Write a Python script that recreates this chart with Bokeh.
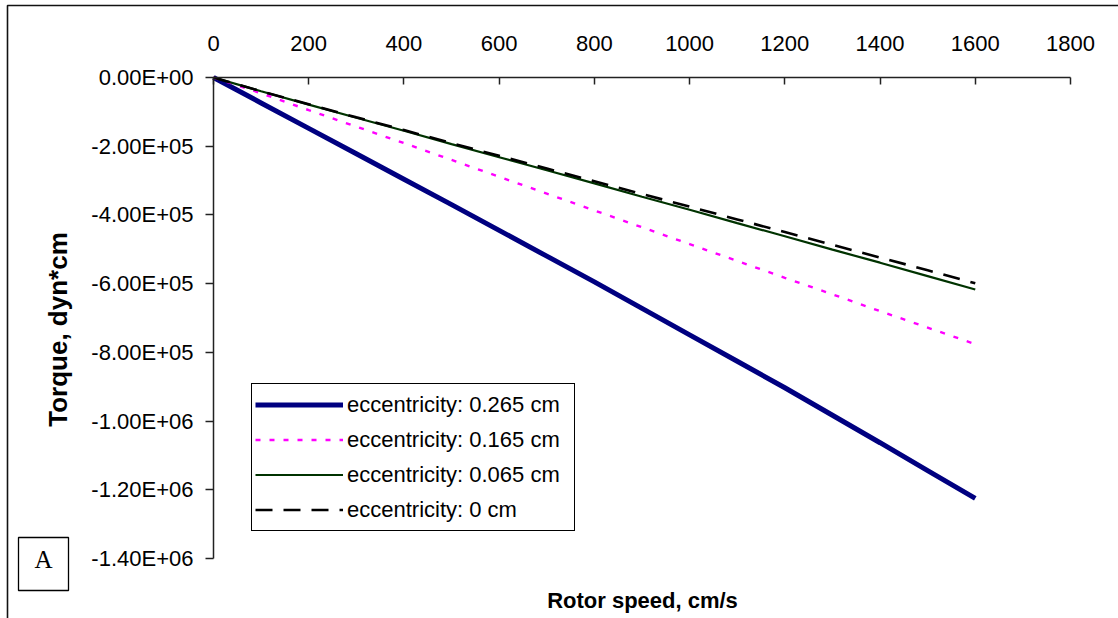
from math import pi

from bokeh.embed import file_html
from bokeh.models import (BoxAnnotation, FixedTicker, Label, Legend, LegendItem,
                          LinearAxis, Range1d)
from bokeh.plotting import figure
from bokeh.resources import INLINE

# Rotor speed (cm/s) and computed torque (dyn*cm) for each eccentricity
speed = [0, 100, 200, 300, 400, 500, 600, 700, 800, 900, 1000, 1100, 1200, 1300, 1400, 1500, 1600]
torque_e0265 = [0, -7.4e4, -1.48e5, -2.22e5, -2.96e5, -3.70e5, -4.45e5, -5.20e5, -5.95e5,
                -6.72e5, -7.49e5, -8.26e5, -9.03e5, -9.83e5, -1.063e6, -1.144e6, -1.225e6]
torque_e0165 = [0, -4.6e4, -9.5e4, -1.43e5, -1.91e5, -2.40e5, -2.89e5, -3.38e5, -3.87e5,
                -4.36e5, -4.85e5, -5.34e5, -5.83e5, -6.31e5, -6.80e5, -7.28e5, -7.76e5]
torque_e0065 = [0, -4.0e4, -7.9e4, -1.17e5, -1.55e5, -1.94e5, -2.32e5, -2.70e5, -3.08e5,
                -3.47e5, -3.85e5, -4.24e5, -4.62e5, -5.01e5, -5.39e5, -5.78e5, -6.17e5]
torque_e0 = [0, -4.0e4, -7.8e4, -1.16e5, -1.53e5, -1.91e5, -2.28e5, -2.65e5, -3.02e5,
             -3.39e5, -3.76e5, -4.13e5, -4.50e5, -4.87e5, -5.24e5, -5.61e5, -5.99e5]

series_names = ["eccentricity: 0.265 cm", "eccentricity: 0.165 cm",
                "eccentricity: 0.065 cm", "eccentricity: 0 cm"]

x_ticks = [0, 200, 400, 600, 800, 1000, 1200, 1400, 1600, 1800]
y_ticks = [0, -200000, -400000, -600000, -800000, -1000000, -1200000, -1400000]
y_tick_labels = ["0.00E+00", "-2.00E+05", "-4.00E+05", "-6.00E+05", "-8.00E+05",
                 "-1.00E+06", "-1.20E+06", "-1.40E+06"]

W, H = 1118, 618
# Canvas pixel box of the axes
AX_L, AX_R, AX_T, AX_B = 213, 1070, 77, 558
X_MIN, X_MAX = 0, 1800
Y_MIN, Y_MAX = -1.4e6, 0

kx = (X_MAX - X_MIN) / (AX_R - AX_L)
ky = (Y_MAX - Y_MIN) / (AX_B - AX_T)


def dx(px):
    return X_MIN + (px - AX_L) * kx


def dy(py):
    return Y_MAX - (py - AX_T) * ky


p = figure(width=W, height=H, x_range=Range1d(dx(0), dx(W)), y_range=Range1d(dy(H), dy(0)),
           x_axis_type=None, y_axis_type=None, toolbar_location=None,
           output_backend="svg", min_border=0)
p.outline_line_color = None
p.background_fill_color = "white"
p.border_fill_color = "white"

FONT = "Liberation Sans"
AXIS_COLOR = "#222222"

xaxis = LinearAxis(fixed_location=0, bounds=(X_MIN, X_MAX),
                   ticker=FixedTicker(ticks=x_ticks),
                   major_tick_in=7, major_tick_out=0, minor_tick_in=0, minor_tick_out=0,
                   major_label_standoff=27, axis_line_color=AXIS_COLOR,
                   major_tick_line_color=AXIS_COLOR, axis_line_width=1.5,
                   major_tick_line_width=1.5,
                   major_label_text_font=FONT, major_label_text_font_size="22px",
                   major_label_text_color="black")
p.add_layout(xaxis, "above")

yaxis = LinearAxis(fixed_location=0, bounds=(Y_MIN, Y_MAX),
                   ticker=FixedTicker(ticks=y_ticks),
                   major_label_overrides=dict(zip(y_ticks, y_tick_labels)),
                   major_tick_in=0, major_tick_out=8, minor_tick_in=0, minor_tick_out=0,
                   major_label_standoff=12, axis_line_color=AXIS_COLOR,
                   major_tick_line_color=AXIS_COLOR, axis_line_width=1.5,
                   major_tick_line_width=1.5,
                   major_label_text_font=FONT, major_label_text_font_size="22px",
                   major_label_text_color="black")
p.add_layout(yaxis, "left")

r1 = p.line(speed, torque_e0265, line_color="#000080", line_width=5)
r2 = p.line(speed, torque_e0165, line_color="#FF00FF", line_width=2.4, line_dash="5 9")
r3 = p.line(speed, torque_e0065, line_color="#003300", line_width=2.2)
r4 = p.line(speed, torque_e0, line_color="black", line_width=2.6, line_dash="17 11")

legend = Legend(items=[LegendItem(label=n, renderers=[r])
                       for n, r in zip(series_names, [r1, r2, r3, r4])],
                location=(251, H - 531), padding=3, margin=0, spacing=0,
                glyph_width=88, glyph_height=35, label_height=35, label_standoff=4,
                label_width=224, label_text_font=FONT, label_text_font_size="22px",
                label_text_color="black",
                border_line_color="black", border_line_alpha=1, border_line_width=1.2,
                background_fill_color="white", background_fill_alpha=1)
p.add_layout(legend)

# Chart frame (only its left and top edges fall on the canvas)
p.add_layout(BoxAnnotation(left=dx(7), right=dx(W + 30), top=dy(5), bottom=dy(H + 30),
                           fill_color=None, line_color="#111111", line_alpha=1,
                           line_width=1.6))

# Panel tag
p.add_layout(BoxAnnotation(left=dx(18), right=dx(68), top=dy(537), bottom=dy(590),
                           fill_color="white", fill_alpha=1, line_color="black",
                           line_alpha=1, line_width=1.3))
p.add_layout(Label(x=dx(43), y=dy(559), text="A", text_font="Liberation Serif",
                   text_font_size="25px", text_align="center", text_baseline="middle",
                   text_color="black"))

# Axis titles
p.add_layout(Label(x=dx(642), y=dy(600), text="Rotor speed, cm/s", text_font=FONT,
                   text_font_style="bold", text_font_size="22px", text_align="center",
                   text_baseline="middle", text_color="black"))
p.add_layout(Label(x=dx(57), y=dy(329), text="Torque, dyn*cm", text_font=FONT,
                   text_font_style="bold", text_font_size="26px", text_align="center",
                   text_baseline="middle", angle=pi / 2, text_color="black"))

open("out.html", "w").write(file_html(p, INLINE))
